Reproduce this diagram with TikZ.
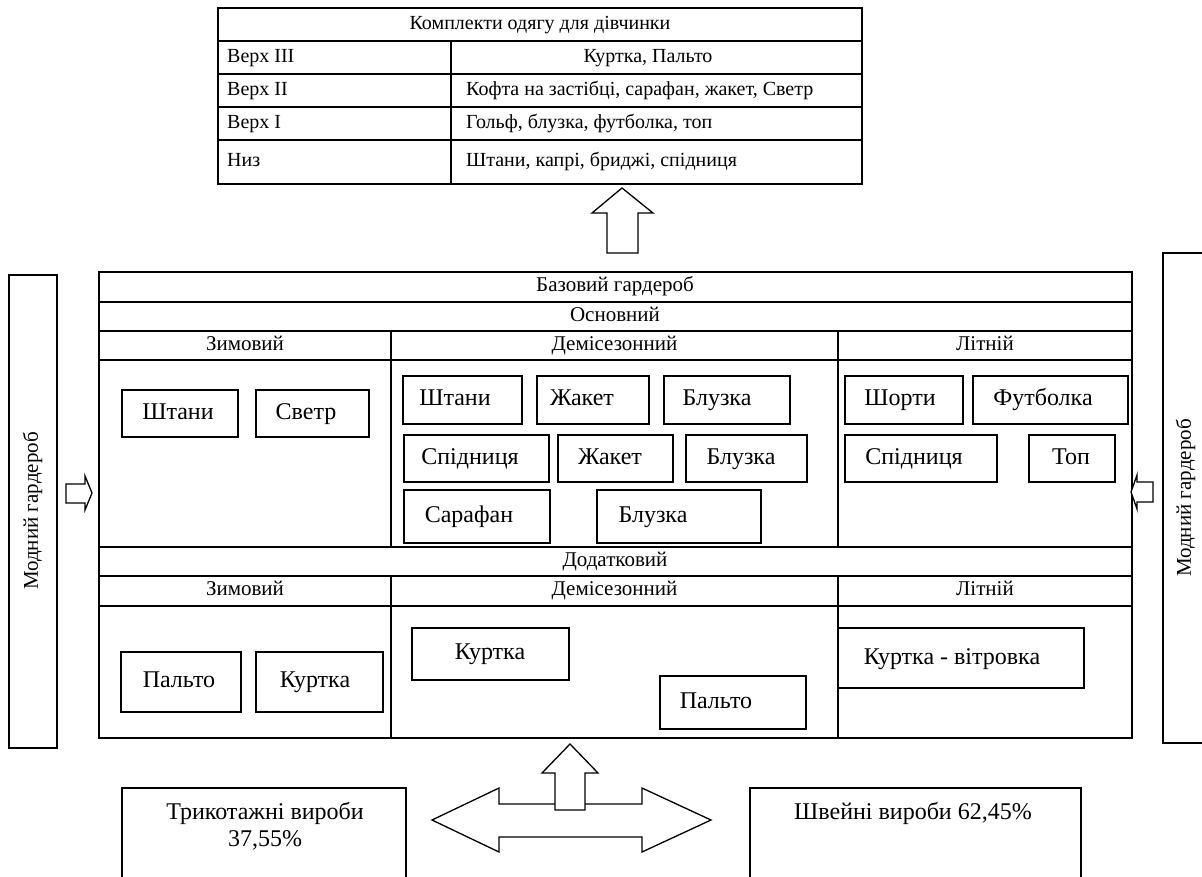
\documentclass[tikz,border=0pt]{standalone}
\usepackage{fontspec}
\setmainfont{Liberation Serif}
\newcommand\ftab{\fontsize{20}{23}\selectfont}
\newcommand\fhdr{\fontsize{21}{24}\selectfont}
\newcommand\finn{\fontsize{24}{27}\selectfont}
\newcommand\fside{\fontsize{21}{24}\selectfont}
\newcommand\rboxt[8]{%
  \node[bx, minimum width={(#4)-(#2)}, minimum height={(#5)-(#3)}] (#1) at ({((#2)+(#4))/2},{((#3)+(#5))/2}) {};
  \node[itx] (#1t) at (#6,#7) {#8};}
\tikzset{
  frame/.style={line width=1.9pt},
  bx/.style={draw, line width=1.4pt, inner sep=0pt},
  ttx/.style={inner sep=0pt, font=\ftab, text height=13.6pt, text depth=4.4pt},
  htx/.style={inner sep=0pt, font=\fhdr, text height=14.3pt, text depth=4.6pt},
  itx/.style={inner sep=0pt, font=\finn, text height=16.5pt, text depth=5.3pt},
  stx/.style={inner sep=0pt, font=\fside, text height=14.3pt, text depth=4.6pt},
  arr/.style={draw, line width=1.3pt, fill=white, line join=miter},
}
\begin{document}
\begin{tikzpicture}[x=1pt,y=-1pt]
\useasboundingbox (0,0) rectangle (1202,876);
\clip (0,0) rectangle (1202,876);
% ---------- top table ----------
\draw[frame] (218,8) rectangle (862,184);
\foreach \yy in {41,74,107,140} \draw[frame] (218,\yy) -- (862,\yy);
\draw[frame] (451,41) -- (451,184);
\node[ttx] (title) at (540,24.5) {Комплекти одягу для дівчинки};
\node[ttx, anchor=west] (v3) at (227,57.5) {Верх III};
\node[ttx] (v3r) at (648,57.5) {Куртка, Пальто};
\node[ttx, anchor=west] (v2) at (227,90.5) {Верх II};
\node[ttx, anchor=west] (v2r) at (466,90.5) {Кофта на застібці, сарафан, жакет, Светр};
\node[ttx, anchor=west] (v1) at (227,123.5) {Верх I};
\node[ttx, anchor=west] (v1r) at (466,123.5) {Гольф, блузка, футболка, топ};
\node[ttx, anchor=west] (niz) at (227,162) {Низ};
\node[ttx, anchor=west] (nizr) at (466,162) {Штани, капрі, бриджі, спідниця};
% up arrow to table
\draw[arr] (622,188) -- (653,213) -- (638,213) -- (638,253) -- (607,253) -- (607,213) -- (592,213) -- cycle;
% ---------- main box ----------
\draw[frame] (99,272) rectangle (1132,738);
\foreach \yy in {302,331,360,547,576,606} \draw[frame] (99,\yy) -- (1132,\yy);
\draw[frame] (391,331) -- (391,547);
\draw[frame] (838,331) -- (838,547);
\draw[frame] (391,576) -- (391,738);
\draw[frame] (838,576) -- (838,738);
\node[htx] (baz) at (615,287) {Базовий гардероб};
\node[htx] (osn) at (615,316.5) {Основний};
\node[htx] (zim1) at (245,345.5) {Зимовий};
\node[htx] (dem1) at (614.5,345.5) {Демісезонний};
\node[htx] (lit1) at (985,345.5) {Літній};
\node[htx] (dod) at (615,561.5) {Додатковий};
\node[htx] (zim2) at (245,591) {Зимовий};
\node[htx] (dem2) at (614.5,591) {Демісезонний};
\node[htx] (lit2) at (985,591) {Літній};
% basic: winter
\rboxt{w1}{122}{390}{238}{437}{178}{413.5}{Штани}
\rboxt{w2}{256}{390}{369}{437}{306}{413.5}{Светр}
% basic: demi-season
\rboxt{d11}{403}{376}{522}{424}{455}{400}{Штани}
\rboxt{d12}{537}{376}{649}{424}{582}{400}{Жакет}
\rboxt{d13}{664}{376}{790}{424}{717}{400}{Блузка}
\rboxt{d21}{404}{435}{549}{482}{470}{458.5}{Спідниця}
\rboxt{d22}{558}{435}{673}{482}{610}{458.5}{Жакет}
\rboxt{d23}{686}{435}{807}{482}{741}{458.5}{Блузка}
\rboxt{d31}{404}{490}{550}{543}{469}{516.5}{Сарафан}
\rboxt{d32}{597}{490}{761}{543}{653}{516.5}{Блузка}
% basic: summer
\rboxt{s11}{845}{376}{963}{424}{900}{400}{Шорти}
\rboxt{s12}{973}{376}{1128}{424}{1043}{400}{Футболка}
\rboxt{s21}{845}{435}{997}{482}{914}{458.5}{Спідниця}
\rboxt{s22}{1029}{435}{1115}{482}{1071}{458.5}{Топ}
% additional
\rboxt{dw1}{121}{652}{241}{712}{179}{682}{Пальто}
\rboxt{dw2}{256}{652}{383}{712}{315}{682}{Куртка}
\rboxt{dd1}{412}{628}{569}{680}{490}{654}{Куртка}
\rboxt{dd2}{660}{676}{806}{729}{716}{703}{Пальто}
\rboxt{ds1}{838}{628}{1084}{688}{952}{659}{Куртка - вітровка}
% ---------- side boxes ----------
\draw[bx] (9,275) rectangle (57,748);
\node[stx, rotate=90] (modl) at (33,511) {Модний гардероб};
\draw[bx] (1163,253) rectangle (1215,743);
\node[stx, rotate=90] (modr) at (1186,498) {Модний гардероб};
\draw[arr] (66,484) -- (85,484) -- (85,476) -- (92,493) -- (85,510) -- (85,503) -- (66,503) -- cycle;
\draw[arr] (1153,482) -- (1137,482) -- (1137,475) -- (1131,492) -- (1137,509) -- (1137,502) -- (1153,502) -- cycle;
% ---------- bottom ----------
\draw[bx] (122,890) -- (122,788) -- (406,788) -- (406,890);
\node[itx] (trik1) at (265,814) {Трикотажні вироби};
\node[itx] (trik2) at (265,841) {37,55\%};
\draw[bx] (750,890) -- (750,788) -- (1081,788) -- (1081,890);
\node[itx] (shv) at (913,814) {Швейні вироби 62,45\%};
\draw[arr] (432,820) -- (499,788) -- (499,804) -- (642,804) -- (642,788) -- (711,820) -- (642,852) -- (642,837) -- (499,837) -- (499,852) -- cycle;
\draw[arr] (570,744) -- (598,773) -- (585,773) -- (585,810) -- (555,810) -- (555,773) -- (542,773) -- cycle;
\end{tikzpicture}
\end{document}
